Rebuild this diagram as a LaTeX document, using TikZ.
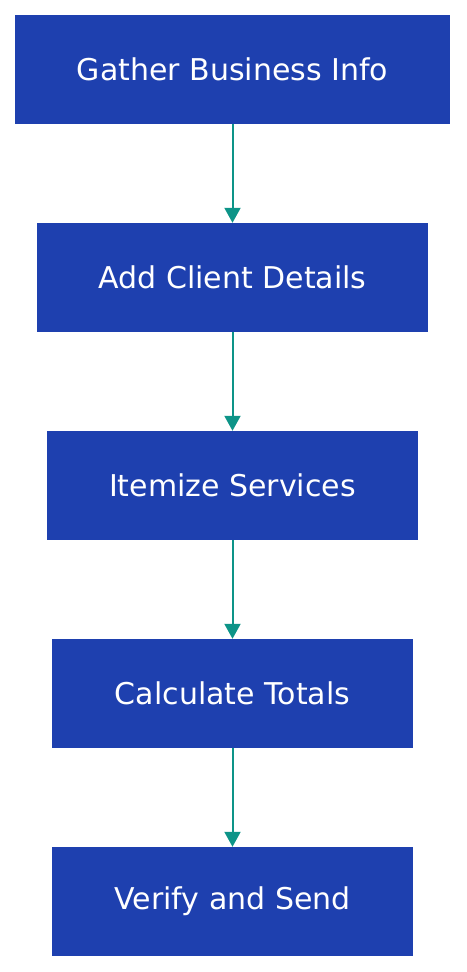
\documentclass[tikz,border=0pt]{standalone}
\usepackage{fontspec}
\setmainfont{DejaVu Sans}
\usetikzlibrary{arrows.meta}
\definecolor{boxblue}{HTML}{1E40AF}
\definecolor{arrteal}{HTML}{0D9488}
\begin{document}
\begin{tikzpicture}[x=1pt,y=-1pt,
  stepbox/.style={fill=boxblue,draw=none,text=white,inner sep=0pt,minimum height=109pt,font=\fontsize{30}{34}\selectfont},
  flow/.style={draw=arrteal,line width=2pt,-{Triangle[width=16pt,length=15pt]}}]
\useasboundingbox (0,0) rectangle (466,972);
\node[stepbox,minimum width=435pt] (a) at (232.5,69.5) {Gather Business Info};
\node[stepbox,minimum width=391pt] (b) at (232.5,277.5) {Add Client Details};
\node[stepbox,minimum width=371pt] (c) at (232.5,485.5) {Itemize Services};
\node[stepbox,minimum width=361pt] (d) at (232.5,693.5) {Calculate Totals};
\node[stepbox,minimum width=361pt] (e) at (232.5,901.5) {Verify and Send};
\draw[flow] (a) -- (b);
\draw[flow] (b) -- (c);
\draw[flow] (c) -- (d);
\draw[flow] (d) -- (e);
\end{tikzpicture}
\end{document}
